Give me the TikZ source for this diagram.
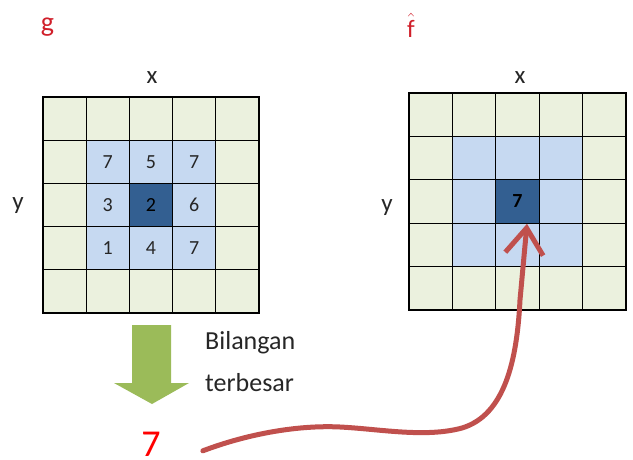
\documentclass[tikz,border=0pt]{standalone}
\usepackage{fontspec}
\setmainfont{Carlito}
\usetikzlibrary{arrows.meta}
\definecolor{cellgreen}{HTML}{EBF1DE}
\definecolor{cellblue}{HTML}{C6D9F1}
\definecolor{celldark}{HTML}{335F91}
\definecolor{arrowgreen}{HTML}{9BBB59}
\definecolor{curvered}{HTML}{C0504D}
\definecolor{titlered}{HTML}{D01F2A}
\definecolor{numgray}{HTML}{262626}
\tikzset{
  cellL/.style={draw=black, line width=1.2pt, minimum width=43.2pt, minimum height=43.2pt, inner sep=0pt, fill=cellgreen, text=numgray, font=\fontsize{20}{24}\selectfont},
  cellR/.style={draw=black, line width=1.2pt, minimum width=43.4pt, minimum height=43.4pt, inner sep=0pt, fill=cellgreen, text=black, font=\fontsize{20}{24}\selectfont},
  axislabel/.style={font=\fontsize{25}{30}\selectfont, text=numgray, inner sep=0pt, anchor=base},
  titlelabel/.style={font=\fontsize{28}{32}\selectfont, text=titlered, inner sep=0pt, anchor=base},
  caption/.style={font=\fontsize{26}{30}\selectfont, text=numgray, inner sep=0pt, anchor=base west},
}
\begin{document}
\begin{tikzpicture}[x=1pt,y=-1pt]
\useasboundingbox (0,0) rectangle (633,459);
% left grid
\foreach \i in {0,...,4}{
  \foreach \j in {0,...,4}{
    \node[cellL] (L-\i-\j) at ({43+43.2*(\i+0.5)},{97+43.2*(\j+0.5)}) {};
  }
}
\foreach \i/\j/\v in {1/1/7,2/1/5,3/1/7,1/2/3,3/2/6,1/3/1,2/3/4,3/3/7}{
  \node[cellL, fill=cellblue] at (L-\i-\j) {\v};
}
\node[cellL, fill=celldark, text=black] (Lc) at (L-2-2) {2};
% right grid
\foreach \i in {0,...,4}{
  \foreach \j in {0,...,4}{
    \node[cellR] (R-\i-\j) at ({409+43.4*(\i+0.5)},{93+43.4*(\j+0.5)}) {};
  }
}
\foreach \i/\j in {1/1,2/1,3/1,1/2,3/2,1/3,2/3,3/3}{
  \node[cellR, fill=cellblue] at (R-\i-\j) {};
}
\node[cellR, fill=celldark, font=\fontsize{20}{24}\selectfont\bfseries] (Rc) at (R-2-2) {7};
% labels
\node[titlelabel] (g) at (47.5,31) {$\mathrm{g}$};
\node[titlelabel, font=\fontsize{25}{30}\selectfont] (fhat) at (411,37) {$\hat{\mathrm{f}}$};
\node[axislabel] (xL) at (152,83) {x};
\node[axislabel] (xR) at (520,83) {x};
\node[axislabel] (yL) at (18,209) {y};
\node[axislabel] (yR) at (387,211) {y};
% green block arrow
\fill[arrowgreen] (132,325) -- (171,325) -- (171,383) -- (189,383) -- (152,404) -- (114,383) -- (132,383) -- cycle;
\node[caption] (t1) at (205,349) {Bilangan};
\node[caption] (t2) at (205,391) {terbesar};
% red result
\node[font=\fontsize{38}{44}\selectfont, text=red, inner sep=0pt, anchor=base] (r7) at (151,456) {7};
\coordinate (cs) at ([xshift=42pt,yshift=-7pt]r7.east);
\coordinate (ce) at ([xshift=9.5pt]Rc.south);
\draw[curvered, line width=5pt, line cap=round, -{Straight Barb[length=26pt,width=38pt]}]
  (cs) .. controls (250,433) and (300,425) .. (340,427)
       .. controls (380,429) and (425,438) .. (462,428)
       .. controls (505,415) and (517,360) .. (520,300)
       -- (ce);
\end{tikzpicture}
\end{document}
